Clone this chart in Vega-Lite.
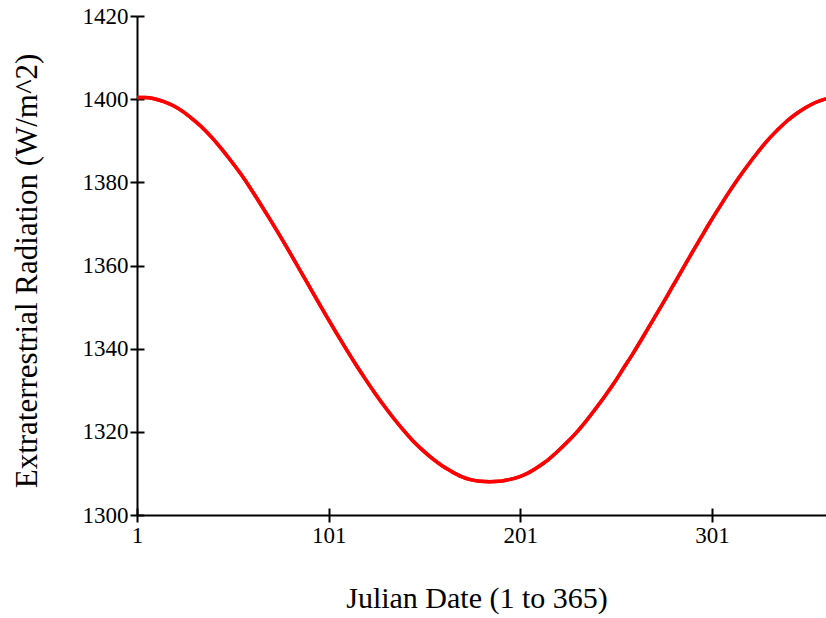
{
  "$schema": "https://vega.github.io/schema/vega-lite/v6.json",
  "width": 689,
  "height": 499,
  "autosize": {"type": "none"},
  "padding": {"left": 137, "top": 16, "right": 0, "bottom": 103},
  "background": "white",
  "config": {"view": {"stroke": null}, "font": "Liberation Serif"},
  "data": {"values": [
    {"day": 1, "radiation": 1400.4}, {"day": 5, "radiation": 1400.4}, {"day": 10, "radiation": 1400.1}, {"day": 15, "radiation": 1399.4},
    {"day": 20, "radiation": 1398.4}, {"day": 25, "radiation": 1397.0}, {"day": 30, "radiation": 1395.2}, {"day": 35, "radiation": 1393.2},
    {"day": 40, "radiation": 1390.8}, {"day": 45, "radiation": 1388.1}, {"day": 50, "radiation": 1385.2}, {"day": 55, "radiation": 1382.1},
    {"day": 60, "radiation": 1378.7}, {"day": 65, "radiation": 1375.1}, {"day": 70, "radiation": 1371.4}, {"day": 75, "radiation": 1367.6},
    {"day": 80, "radiation": 1363.7}, {"day": 85, "radiation": 1359.7}, {"day": 90, "radiation": 1355.7}, {"day": 95, "radiation": 1351.7},
    {"day": 100, "radiation": 1347.7}, {"day": 105, "radiation": 1343.8}, {"day": 110, "radiation": 1340.0}, {"day": 115, "radiation": 1336.3},
    {"day": 120, "radiation": 1332.8}, {"day": 125, "radiation": 1329.4}, {"day": 130, "radiation": 1326.2}, {"day": 135, "radiation": 1323.2},
    {"day": 140, "radiation": 1320.4}, {"day": 145, "radiation": 1317.8}, {"day": 150, "radiation": 1315.6}, {"day": 155, "radiation": 1313.6},
    {"day": 160, "radiation": 1311.9}, {"day": 165, "radiation": 1310.5}, {"day": 170, "radiation": 1309.3}, {"day": 175, "radiation": 1308.5},
    {"day": 180, "radiation": 1308.1}, {"day": 185, "radiation": 1308.0}, {"day": 190, "radiation": 1308.1}, {"day": 195, "radiation": 1308.5},
    {"day": 200, "radiation": 1309.1}, {"day": 205, "radiation": 1310.1}, {"day": 210, "radiation": 1311.5}, {"day": 215, "radiation": 1313.1},
    {"day": 220, "radiation": 1315.1}, {"day": 225, "radiation": 1317.3}, {"day": 230, "radiation": 1319.7}, {"day": 235, "radiation": 1322.4},
    {"day": 240, "radiation": 1325.4}, {"day": 245, "radiation": 1328.5}, {"day": 250, "radiation": 1331.8}, {"day": 255, "radiation": 1335.4},
    {"day": 260, "radiation": 1339.0}, {"day": 265, "radiation": 1342.8}, {"day": 270, "radiation": 1346.7}, {"day": 275, "radiation": 1350.6},
    {"day": 280, "radiation": 1354.6}, {"day": 285, "radiation": 1358.6}, {"day": 290, "radiation": 1362.6}, {"day": 295, "radiation": 1366.5},
    {"day": 300, "radiation": 1370.4}, {"day": 305, "radiation": 1374.1}, {"day": 310, "radiation": 1377.7}, {"day": 315, "radiation": 1381.1},
    {"day": 320, "radiation": 1384.3}, {"day": 325, "radiation": 1387.3}, {"day": 330, "radiation": 1390.1}, {"day": 335, "radiation": 1392.5},
    {"day": 340, "radiation": 1394.7}, {"day": 345, "radiation": 1396.5}, {"day": 350, "radiation": 1398.0}, {"day": 355, "radiation": 1399.2},
    {"day": 360, "radiation": 1400.0}, {"day": 365, "radiation": 1400.4}
  ]},
  "layer": [
    {
      "mark": {"type": "line", "color": "#ff0000", "strokeWidth": 3.5, "clip": true, "interpolate": "monotone"},
      "encoding": {
        "x": {"field": "day", "type": "quantitative",
          "scale": {"domain": [1, 360.5], "nice": false, "zero": false},
          "axis": {"title": "Julian Date (1 to 365)", "values": [1, 101, 201, 301], "format": "d", "grid": false,
            "domainColor": "#000", "domainWidth": 2, "tickColor": "#000", "tickWidth": 2, "tickSize": 7,
            "labelFont": "Liberation Serif", "labelFontSize": 23, "labelColor": "#000", "labelPadding": 2, "labelFlush": false,
            "titleFont": "Liberation Serif", "titleFontSize": 30, "titleFontWeight": "normal", "titleColor": "#000",
            "titleX": 339.5, "titleY": 92, "titleBaseline": "alphabetic"}},
        "y": {"field": "radiation", "type": "quantitative",
          "scale": {"domain": [1300, 1420], "nice": false, "zero": false},
          "axis": {"title": "Extraterrestrial Radiation (W/m^2)", "values": [1300, 1320, 1340, 1360, 1380, 1400, 1420], "format": "d", "grid": false,
            "domainColor": "#000", "domainWidth": 2, "tickColor": "#000", "tickWidth": 2, "tickSize": 7,
            "labelFont": "Liberation Serif", "labelFontSize": 23, "labelColor": "#000", "labelPadding": 2, "labelFlush": false,
            "titleFont": "Liberation Serif", "titleFontSize": 31, "titleFontWeight": "normal", "titleColor": "#000",
            "titleX": -94, "titleY": 254.5}}
      }
    },
    {
      "mark": {"type": "line", "color": "#ff0000", "strokeWidth": 3.5, "clip": true, "interpolate": "monotone"},
      "encoding": {
        "x": {"field": "day", "type": "quantitative",
          "scale": {"domain": [1, 360.5], "nice": false, "zero": false},
          "axis": {"orient": "bottom", "title": null, "values": [1, 101, 201, 301], "grid": false, "domain": false, "labels": false,
            "tickColor": "#000", "tickWidth": 2, "tickSize": -7}},
        "y": {"field": "radiation", "type": "quantitative",
          "scale": {"domain": [1300, 1420], "nice": false, "zero": false},
          "axis": {"orient": "left", "title": null, "values": [1300, 1320, 1340, 1360, 1380, 1400, 1420], "grid": false, "domain": false, "labels": false,
            "tickColor": "#000", "tickWidth": 2, "tickSize": -7}}
      }
    }
  ],
  "resolve": {"axis": {"x": "independent", "y": "independent"}}
}
